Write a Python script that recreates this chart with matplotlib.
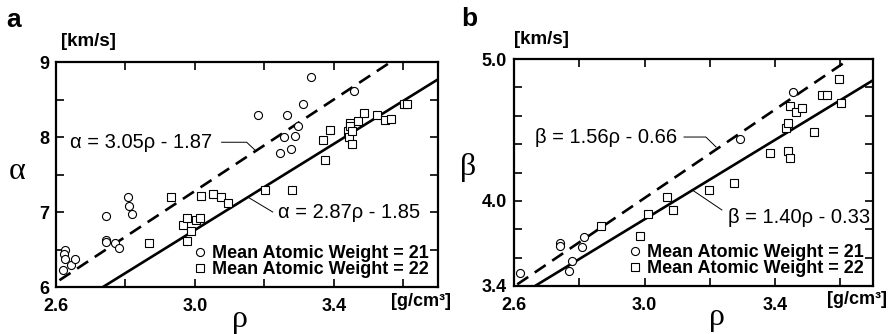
import matplotlib
matplotlib.use("Agg")
import matplotlib.pyplot as plt
import numpy as np

# ---------------- data ----------------
a_circ_rho = [2.627, 2.624, 2.627, 2.619, 2.643, 2.656, 2.744, 2.744, 2.744, 2.770, 2.780,
              2.806, 2.811, 2.820, 3.181, 3.266, 3.256, 3.244, 3.277, 3.287, 3.296, 3.311,
              3.333, 3.459]
a_circ_alpha = [6.50, 6.44, 6.38, 6.23, 6.30, 6.38, 6.95, 6.63, 6.60, 6.59, 6.52,
                7.20, 7.08, 6.98, 8.29, 8.29, 8.00, 7.79, 7.84, 8.02, 8.15, 8.44,
                8.80, 8.62]
a_sq_rho = [2.868, 2.932, 2.966, 2.977, 2.977, 2.990, 3.004, 3.014, 3.017, 3.052, 3.074,
            3.095, 3.202, 3.279, 3.370, 3.376, 3.390, 3.440, 3.443, 3.448, 3.448, 3.452,
            3.452, 3.471, 3.488, 3.524, 3.548, 3.566, 3.603, 3.612]
a_sq_alpha = [6.59, 7.20, 6.83, 6.92, 6.62, 6.75, 6.90, 6.92, 7.22, 7.24, 7.20,
              7.12, 7.30, 7.29, 7.96, 7.70, 8.09, 8.08, 8.00, 8.19, 8.15, 8.08,
              7.91, 8.22, 8.32, 8.30, 8.23, 8.24, 8.44, 8.44]

b_circ_rho = [2.618, 2.742, 2.742, 2.768, 2.778, 2.808, 2.816, 3.291, 3.454]
b_circ_beta = [3.494, 3.706, 3.682, 3.508, 3.579, 3.673, 3.744, 4.436, 4.765]
b_sq_rho = [2.866, 2.986, 3.012, 3.070, 3.088, 3.198, 3.274, 3.384, 3.433, 3.441,
            3.441, 3.445, 3.445, 3.464, 3.482, 3.518, 3.543, 3.558, 3.596, 3.602]
b_sq_beta = [3.823, 3.753, 3.908, 4.025, 3.936, 4.077, 4.124, 4.335, 4.512, 4.551,
             4.354, 4.300, 4.669, 4.624, 4.652, 4.488, 4.746, 4.746, 4.857, 4.688]

# regression fits: (slope, intercept)
a_fit21 = (3.05, -1.87)
a_fit22 = (2.87, -1.85)
b_fit21 = (1.56, -0.66)
b_fit22 = (1.40, -0.33)

legend_labels = ["Mean Atomic Weight = 21", "Mean Atomic Weight = 22"]
x_ticks = [2.6, 2.8, 3.0, 3.2, 3.4, 3.6]
x_ticklabels = ["2.6", "", "3.0", "", "3.4", ""]
a_yticks = [6, 6.5, 7, 7.5, 8, 8.5, 9]
a_yticklabels = ["6", "", "7", "", "8", "", "9"]
b_yticks = [3.4, 3.6, 3.8, 4.0, 4.2, 4.4, 4.6, 4.8, 5.0]
b_yticklabels = ["3.4", "", "", "4.0", "", "", "", "", "5.0"]

# ---------------- style ----------------
SANS = ["Liberation Sans", "DejaVu Sans"]
SERIF = ["Liberation Serif", "DejaVu Serif"]
plt.rcParams['font.family'] = SANS

W, H = 893, 334
fig = plt.figure(figsize=(W / 100, H / 100), dpi=100)

ax_a = fig.add_axes([56 / W, 1 - 287 / H, (438 - 56) / W, (287 - 62) / H])
ax_b = fig.add_axes([514 / W, 1 - 286 / H, (873 - 514) / W, (286 - 59) / H])


def style_axes(ax, yticks, yticklabels, ylim):
    ax.set_xlim(2.6, 3.7)
    ax.set_ylim(*ylim)
    ax.set_xticks(x_ticks)
    ax.set_xticklabels(x_ticklabels)
    ax.set_yticks(yticks)
    ax.set_yticklabels(yticklabels)
    ax.tick_params(direction='in', length=5.5, width=1.2, top=True, right=True,
                   labelsize=13)
    ax.tick_params(axis='x', pad=8)
    ax.tick_params(axis='y', pad=5)
    for lab in ax.get_xticklabels() + ax.get_yticklabels():
        lab.set_fontweight('bold')
    for sp in ax.spines.values():
        sp.set_linewidth(1.6)


def draw_panel(ax, c_rho, c_val, s_rho, s_val, fit21, fit22, x21_end):
    ax.plot(c_rho, c_val, linestyle='none', marker='o', markersize=5.8,
            markerfacecolor='white', markeredgecolor='black', markeredgewidth=0.8,
            label=legend_labels[0], zorder=3)
    ax.plot(s_rho, s_val, linestyle='none', marker='s', markersize=5.2,
            markerfacecolor='white', markeredgecolor='black', markeredgewidth=0.8,
            label=legend_labels[1], zorder=3)
    x1 = np.linspace(2.61, x21_end, 50)
    ax.plot(x1, fit21[0] * x1 + fit21[1], color='black', lw=1.9,
            linestyle=(0, (5, 3)), zorder=2)
    x2 = np.linspace(2.6, 3.7, 50)
    ax.plot(x2, fit22[0] * x2 + fit22[1], color='black', lw=1.9, zorder=2)
    leg = ax.legend(loc='lower right', bbox_to_anchor=(0.995, 0.008), frameon=False,
                    handlelength=0.6, handletextpad=0.35, labelspacing=-0.05,
                    borderaxespad=0.0, prop=dict(family=SANS, weight='bold', size=13))
    return leg


# panel a
style_axes(ax_a, a_yticks, a_yticklabels, (6, 9))
draw_panel(ax_a, a_circ_rho, a_circ_alpha, a_sq_rho, a_sq_alpha, a_fit21, a_fit22, 3.7)
ax_a.text(3.05, 7.93, "α = 3.05ρ - 1.87", ha='right', va='center', fontsize=14.5)
ax_a.plot([3.077, 3.149, 3.172], [7.93, 7.93, 7.83], color='black', lw=0.7)
ax_a.text(3.24, 7.0, "α = 2.87ρ - 1.85", ha='left', va='center', fontsize=14.5)
ax_a.plot([3.152, 3.224], [7.2, 7.0], color='black', lw=0.7)

# panel b
style_axes(ax_b, b_yticks, b_yticklabels, (3.4, 5.0))
draw_panel(ax_b, b_circ_rho, b_circ_beta, b_sq_rho, b_sq_beta, b_fit21, b_fit22, 3.61)
ax_b.text(3.10, 4.45, "β = 1.56ρ - 0.66", ha='right', va='center', fontsize=14.5)
ax_b.plot([3.121, 3.188, 3.219], [4.45, 4.45, 4.38], color='black', lw=0.7)
ax_b.text(3.255, 3.886, "β = 1.40ρ - 0.33", ha='left', va='center', fontsize=14.5)
ax_b.plot([3.146, 3.237], [4.077, 3.936], color='black', lw=0.7)

# figure-level texts
fig.text(14 / W, 1 - 20 / H, "a", fontsize=19, fontweight='bold', ha='center', va='center')
fig.text(469 / W, 1 - 19 / H, "b", fontsize=19, fontweight='bold', ha='center', va='center')
fig.text(88 / W, 1 - 42 / H, "[km/s]", fontsize=13.5, fontweight='bold', ha='center', va='center')
fig.text(541 / W, 1 - 40 / H, "[km/s]", fontsize=13.5, fontweight='bold', ha='center', va='center')
fig.text(421 / W, 1 - 302 / H, "[g/cm³]", fontsize=13, fontweight='bold', ha='center', va='center')
fig.text(857 / W, 1 - 300 / H, "[g/cm³]", fontsize=13, fontweight='bold', ha='center', va='center')
fig.text(17 / W, 1 - 172 / H, "α", fontsize=23, family=SERIF, ha='center', va='center')
fig.text(468 / W, 1 - 167 / H, "β", fontsize=23, family=SERIF, ha='center', va='center')
fig.text(240 / W, 1 - 319 / H, "ρ", fontsize=23, family=SERIF, ha='center', va='center')
fig.text(717 / W, 1 - 318 / H, "ρ", fontsize=23, family=SERIF, ha='center', va='center')

fig.savefig("out.png", dpi=100)
